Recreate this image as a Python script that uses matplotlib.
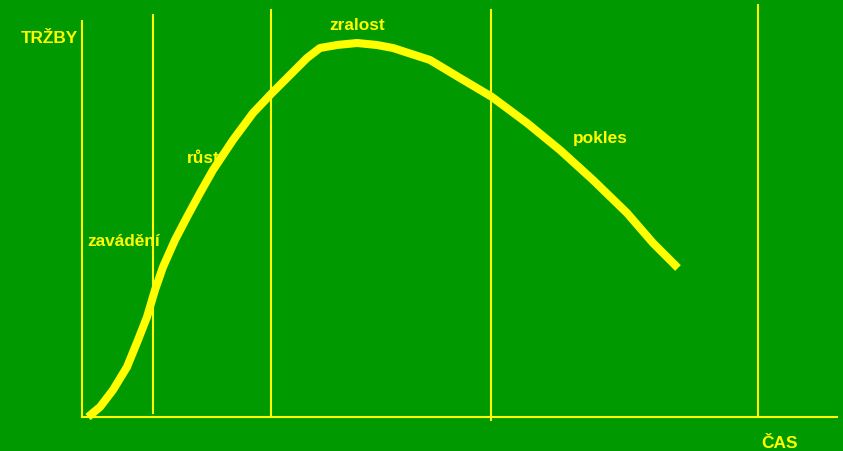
import matplotlib.pyplot as plt

# time vs sales, origin at the axis corner
t = [6, 18, 31, 45, 56, 65, 73, 81, 93, 105, 118, 131, 151, 171, 190, 208, 225, 238,
     255, 275, 295, 311, 348, 378, 410, 445, 478, 511, 545, 571, 596]
sales = [0, 10, 27, 50, 77, 100, 127, 150, 177, 200, 224, 247, 277, 304, 324, 342, 359, 369,
         372, 374, 372, 369, 357, 339, 320, 294, 267, 237, 204, 174, 149]

# phase boundaries: (time, bottom, top)
bounds = [(71, 4, 402), (189, 0, 407), (409, -3, 407), (676, 0, 412)]
phases = ["zavádění", "růst", "zralost", "pokles"]
phase_pos = [(5, 171), (105, 254), (247, 387), (491, 274)]

bg = "#009900"
fg = "#FFFF00"

fig = plt.figure(figsize=(8.43, 4.51), dpi=100, facecolor=bg)
ax = fig.add_axes([0, 0, 1, 1])
ax.set_facecolor(bg)
ax.set_xlim(-82, 761)
ax.set_ylim(-34, 417)
ax.axis("off")

# axes
ax.plot([0, 0], [0, 396], color=fg, linewidth=1.5)
ax.plot([0, 755], [0, 0], color=fg, linewidth=1.5)

for x, y0, y1 in bounds:
    ax.plot([x, x], [y0, y1], color=fg, linewidth=1.5)

ax.plot(t, sales, color=fg, linewidth=5.8, solid_capstyle="butt", solid_joinstyle="round")

font = dict(color=fg, fontsize=12.4, fontweight="bold", family="Liberation Sans", va="baseline")
ax.text(-61, 374, "TRŽBY", **font)
ax.text(679, -31, "ČAS", **font)
for name, (x, y) in zip(phases, phase_pos):
    ax.text(x, y, name, **font)

fig.savefig("out.png", dpi=100, facecolor=bg)
